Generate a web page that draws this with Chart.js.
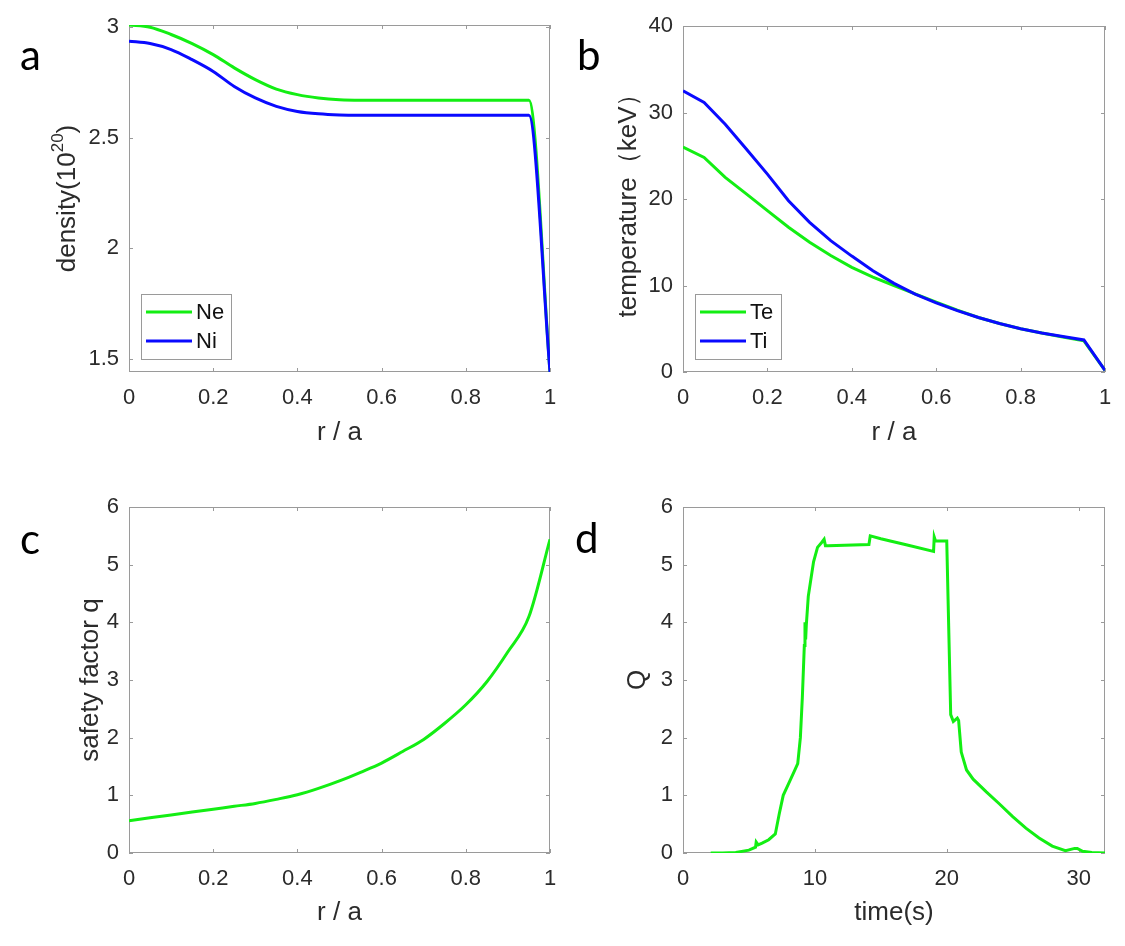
<!DOCTYPE html>
<html>
<head>
<meta charset="utf-8">
<script src="https://cdn.jsdelivr.net/npm/chart.js@4.4.1/dist/chart.umd.min.js"></script>
<style>
  body { margin: 0; background: #fff; }
  #wrap { position: relative; width: 1125px; height: 946px; }
  canvas { position: absolute; }
</style>
</head>
<body>
<div id="wrap">
  <canvas id="pa" width="562" height="470" style="left:0;top:0"></canvas>
  <canvas id="pb" width="563" height="470" style="left:562px;top:0"></canvas>
  <canvas id="pc" width="562" height="476" style="left:0;top:470px"></canvas>
  <canvas id="pd" width="563" height="476" style="left:562px;top:470px"></canvas>
</div>
<script>
// radius grid r/a, shared by a, b, c
const rGrid = [0, 0.05, 0.1, 0.15, 0.2, 0.25, 0.3, 0.35, 0.4, 0.45, 0.5,
               0.55, 0.6, 0.65, 0.7, 0.75, 0.8, 0.85, 0.9, 0.95, 1]

// a: density (10^20)
const neDensity = [3.01, 3.0, 2.967, 2.926, 2.876, 2.816, 2.763, 2.72, 2.695, 2.68, 2.672,
                   2.67, 2.67, 2.67, 2.67, 2.67, 2.67, 2.67, 2.67, 2.67, 1.44]
const niDensity = [2.937, 2.926, 2.899, 2.853, 2.8, 2.732, 2.68, 2.642, 2.619, 2.608, 2.603,
                   2.602, 2.602, 2.602, 2.602, 2.602, 2.602, 2.602, 2.602, 2.602, 1.44]

// b: temperature (keV)
const teTemp = [26.0, 24.8, 22.5, 20.6, 18.65, 16.73, 15.0, 13.46, 12.1, 10.96, 10.0,
                9.04, 8.08, 7.15, 6.3, 5.6, 5.0, 4.5, 4.05, 3.6, 0.2]
const tiTemp = [32.5, 31.15, 28.65, 25.77, 22.88, 19.8, 17.3, 15.19, 13.4, 11.7, 10.25,
                9.0, 8.0, 7.1, 6.3, 5.6, 5.0, 4.5, 4.1, 3.7, 0.2]

// c: safety factor
const qProfile = [0.56, 0.61, 0.66, 0.71, 0.76, 0.81, 0.86, 0.93, 1.01, 1.12, 1.25,
                  1.4, 1.56, 1.76, 1.97, 2.25, 2.57, 2.97, 3.49, 4.1, 5.44]

// d: Q vs time
const timeS = [2.1, 3, 4, 5, 5.5, 5.55, 5.7, 6, 6.5, 7, 7.3, 7.6, 8, 8.4, 8.7, 8.9, 9.05, 9.2,
               9.25, 9.3, 9.35, 9.5, 9.7, 9.9, 10.2, 10.5, 10.7, 10.8, 11, 14.1, 14.2, 15, 17,
               19, 19.05, 19.15, 20, 20.1, 20.3, 20.5, 20.8, 20.9, 21.1, 21.5, 22, 23, 24, 25,
               26, 27, 28, 29, 29.7, 29.9, 30.3, 31, 32]
const fusionQ = [0, 0, 0.01, 0.05, 0.1, 0.19, 0.14, 0.17, 0.23, 0.33, 0.68, 1.0, 1.2, 1.4, 1.55,
                 2.0, 2.7, 3.6, 4.0, 3.7, 3.95, 4.45, 4.75, 5.05, 5.3, 5.38, 5.44, 5.33, 5.33,
                 5.35, 5.5, 5.45, 5.34, 5.23, 5.48, 5.41, 5.41, 4.4, 2.4, 2.28, 2.34, 2.3, 1.75,
                 1.44, 1.28, 1.06, 0.85, 0.63, 0.43, 0.26, 0.12, 0.04, 0.08, 0.08, 0.03, 0.01, 0]

// tick labels
const rTicks = [0, 0.2, 0.4, 0.6, 0.8, 1]
const densTicks = [1.5, 2, 2.5, 3]
const tempTicks = [0, 10, 20, 30, 40]
const qTicks = [0, 1, 2, 3, 4, 5, 6]
const timeTicks = [0, 10, 20, 30]

const GREEN = '#13ee13'
const BLUE = '#0a0aff'
const BOX = '#9a9a9a'
const TEXT = '#2b2b2b'
const FONT = '"Liberation Sans", Arial, sans-serif'

Chart.defaults.font.family = FONT
Chart.defaults.color = TEXT

const toPts = (xs, ys) => xs.map((x, i) => ({x, y: ys[i]}))

// matlab style box, inward ticks, legend and panel letter
const frame = {
    id: 'frame',
    beforeDatasetsDraw(chart, args, opts) {
        const {ctx, chartArea: a, scales: {x, y}} = chart
        ctx.save()
        ctx.strokeStyle = BOX
        ctx.lineWidth = 1
        ctx.strokeRect(a.left + 0.5, a.top + 0.5, a.width - 1, a.height - 1)
        ctx.beginPath()
        x.ticks.forEach(t => {
            const px = Math.round(x.getPixelForValue(t.value)) + 0.5
            ctx.moveTo(px, a.bottom); ctx.lineTo(px, a.bottom - 4)
            ctx.moveTo(px, a.top); ctx.lineTo(px, a.top + 4)
        })
        y.ticks.forEach(t => {
            const py = Math.round(y.getPixelForValue(t.value)) + 0.5
            ctx.moveTo(a.left, py); ctx.lineTo(a.left + 4, py)
            ctx.moveTo(a.right, py); ctx.lineTo(a.right - 4, py)
        })
        ctx.stroke()
        ctx.restore()
    },
    afterDraw(chart, args, opts) {
        const {ctx, chartArea: a} = chart
        ctx.save()
        if (opts.legendWidth) {
            const bx = a.left + 12, bh = 65, by = a.bottom - 13 - bh
            ctx.fillStyle = '#fff'
            ctx.fillRect(bx, by, opts.legendWidth, bh)
            ctx.strokeStyle = BOX
            ctx.lineWidth = 1
            ctx.strokeRect(bx + 0.5, by + 0.5, opts.legendWidth, bh)
            ctx.font = '22px ' + FONT
            ctx.textBaseline = 'middle'
            chart.data.datasets.forEach((ds, i) => {
                const ly = by + 18 + i * 29
                ctx.strokeStyle = ds.borderColor
                ctx.lineWidth = 3
                ctx.beginPath()
                ctx.moveTo(bx + 5, ly); ctx.lineTo(bx + 51, ly)
                ctx.stroke()
                ctx.fillStyle = '#111'
                ctx.fillText(ds.label, bx + 55, ly + 1)
            })
        }
        // y title with a real superscript (density panel)
        if (opts.supTitle) {
            const [base, sup, tail] = opts.supTitle
            ctx.translate(opts.supX, (a.top + a.bottom) / 2)
            ctx.rotate(-Math.PI / 2)
            ctx.fillStyle = TEXT
            ctx.textBaseline = 'middle'
            ctx.font = '26px ' + FONT
            const w1 = ctx.measureText(base).width, w3 = ctx.measureText(tail).width
            ctx.font = '17px ' + FONT
            const w2 = ctx.measureText(sup).width
            let sx = -(w1 + w2 + w3) / 2
            ctx.font = '26px ' + FONT
            ctx.fillText(base, sx, 0)
            ctx.font = '17px ' + FONT
            ctx.fillText(sup, sx + w1, -10)
            ctx.font = '26px ' + FONT
            ctx.fillText(tail, sx + w1 + w2, 0)
            ctx.setTransform(1, 0, 0, 1, 0, 0)
        }
        ctx.font = '42px Lato, "Open Sans", sans-serif'
        ctx.fillStyle = '#000'
        ctx.textBaseline = 'alphabetic'
        ctx.fillText(opts.letter, opts.lx, opts.ly)
        ctx.restore()
    }
}

// places the plot box at page coords so every panel lines up like the original
const makePanel = (id, cfg) => {
    const cv = document.getElementById(id)
    const ox = parseFloat(cv.style.left) || 0, oy = parseFloat(cv.style.top) || 0
    const [bl, bt, br, bb] = cfg.box
    const padLeft = cfg.yTitleX - 15 - ox
    const yw = bl - ox - padLeft
    const xh = cfg.xTitleY + 15 - bb
    const titleFont = {size: 26}

    new Chart(cv, {
        type: 'line',
        data: {datasets: cfg.datasets.map(d => ({
            label: d.label,
            data: d.data,
            borderColor: d.color,
            backgroundColor: d.color,
            borderWidth: 3,
            pointRadius: 0,
            tension: 0,
            cubicInterpolationMode: cfg.smooth ? 'monotone' : 'default',
            order: d.order || 0
        }))},
        options: {
            responsive: false,
            animation: false,
            layout: {padding: {left: padLeft, top: bt - oy, right: ox + cv.width - br, bottom: oy + cv.height - bb - xh}},
            plugins: {
                legend: {display: false},
                tooltip: {enabled: false},
                frame: {
                    letter: cfg.letter, lx: cfg.letterPos[0] - ox, ly: cfg.letterPos[1] - oy,
                    legendWidth: cfg.legendWidth,
                    supTitle: cfg.supTitle, supX: cfg.yTitleX - ox
                }
            },
            scales: {
                x: {
                    type: 'linear',
                    min: cfg.xRange[0], max: cfg.xRange[1],
                    grid: {display: false, drawTicks: false},
                    border: {display: false},
                    ticks: {font: {size: 22}, padding: 13, maxRotation: 0, callback: v => String(v)},
                    afterBuildTicks: s => { s.ticks = cfg.xTicks.map(v => ({value: v})) },
                    afterFit: s => { s.height = xh; s.paddingLeft = 0; s.paddingRight = 0 },
                    title: {display: true, text: cfg.xTitle, font: titleFont, padding: 0, color: TEXT}
                },
                y: {
                    type: 'linear',
                    min: cfg.yRange[0], max: cfg.yRange[1],
                    grid: {display: false, drawTicks: false},
                    border: {display: false},
                    ticks: {font: {size: 22}, padding: 10, callback: v => String(v)},
                    afterBuildTicks: s => { s.ticks = cfg.yTicks.map(v => ({value: v})) },
                    afterFit: s => { s.width = yw; s.paddingTop = 0; s.paddingBottom = 0 },
                    title: {display: !!cfg.yTitle, text: cfg.yTitle, font: titleFont, padding: 0, color: TEXT}
                }
            }
        },
        plugins: [frame]
    })
}

makePanel('pa', {
    box: [129, 25, 550, 372], yTitleX: 68, xTitleY: 433,
    letter: 'a', letterPos: [20, 70], legendWidth: 90, smooth: true,
    xRange: [0, 1], yRange: [1.44, 3.01], xTicks: rTicks, yTicks: densTicks,
    xTitle: 'r / a', yTitle: '', supTitle: ['density(10', '20', ')'],
    datasets: [
        {label: 'Ne', data: toPts(rGrid, neDensity), color: GREEN, order: 2},
        {label: 'Ni', data: toPts(rGrid, niDensity), color: BLUE, order: 1}
    ]
})

makePanel('pb', {
    box: [683, 26, 1105, 372], yTitleX: 628, xTitleY: 433,
    letter: 'b', letterPos: [577, 70], legendWidth: 86,
    xRange: [0, 1], yRange: [0, 40], xTicks: rTicks, yTicks: tempTicks,
    xTitle: 'r / a', yTitle: 'temperature（keV）',
    datasets: [
        {label: 'Te', data: toPts(rGrid, teTemp), color: GREEN, order: 2},
        {label: 'Ti', data: toPts(rGrid, tiTemp), color: BLUE, order: 1}
    ]
})

makePanel('pc', {
    box: [129, 507, 550, 853], yTitleX: 90, xTitleY: 913,
    letter: 'c', letterPos: [20, 554], smooth: true,
    xRange: [0, 1], yRange: [0, 6], xTicks: rTicks, yTicks: qTicks,
    xTitle: 'r / a', yTitle: 'safety factor q',
    datasets: [{label: 'q', data: toPts(rGrid, qProfile), color: GREEN}]
})

makePanel('pd', {
    box: [683, 507, 1105, 853], yTitleX: 637, xTitleY: 913,
    letter: 'd', letterPos: [575, 553],
    xRange: [0, 32], yRange: [0, 6], xTicks: timeTicks, yTicks: qTicks,
    xTitle: 'time(s)', yTitle: 'Q',
    datasets: [{label: 'Q', data: toPts(timeS, fusionQ), color: GREEN}]
})
</script>
</body>
</html>
